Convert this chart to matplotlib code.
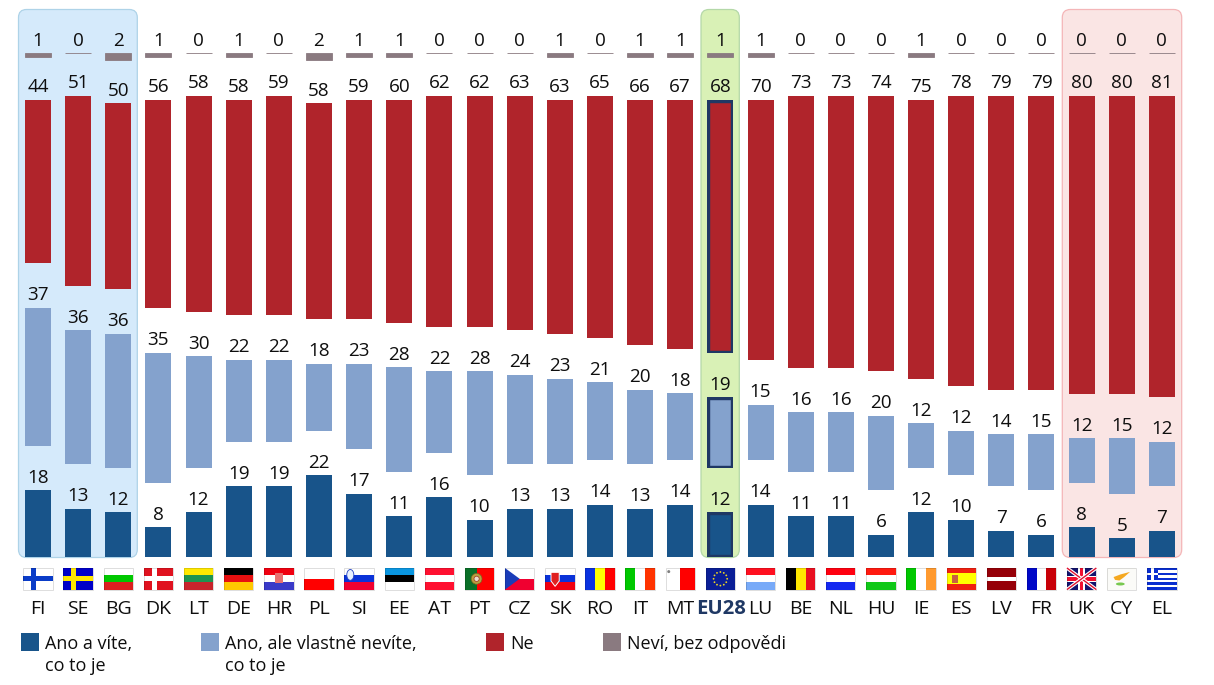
import numpy as np
import matplotlib
matplotlib.use("Agg")
import matplotlib.pyplot as plt
from matplotlib.patches import Rectangle, FancyBboxPatch, Polygon, Circle, Ellipse

countries = ["FI","SE","BG","DK","LT","DE","HR","PL","SI","EE","AT","PT","CZ","SK","RO","IT","MT",
             "EU28","LU","BE","NL","HU","IE","ES","LV","FR","UK","CY","EL"]
ano_vite = [18,13,12,8,12,19,19,22,17,11,16,10,13,13,14,13,14,12,14,11,11,6,12,10,7,6,8,5,7]
ano_nevite = [37,36,36,35,30,22,22,18,23,28,22,28,24,23,21,20,18,19,15,16,16,20,12,12,14,15,12,15,12]
ne = [44,51,50,56,58,58,59,58,59,60,62,62,63,63,65,66,67,68,70,73,73,74,75,78,79,79,80,80,81]
nevi = [1,0,2,1,0,1,0,2,1,1,0,0,0,1,0,1,1,1,1,0,0,0,1,0,0,0,0,0,0]
series_labels = ["Ano a víte,\nco to je", "Ano, ale vlastně nevíte,\nco to je", "Ne", "Neví, bez odpovědi"]

C_DARK, C_LIGHT, C_RED, C_GREY = "#18548a", "#84a2cd", "#b0242b", "#8a7a80"
NAVY = "#1f3864"
TXT = "#0e0e0e"
plt.rcParams['font.family'] = ['Open Sans', 'DejaVu Sans']
FS = 13.6

W, H = 1214, 685
fig = plt.figure(figsize=(W/100, H/100), dpi=100)

# pixel-space layer behind the bars
bg = fig.add_axes([0, 0, 1, 1], zorder=0)
bg.set_xlim(0, W); bg.set_ylim(H, 0); bg.axis("off")
for x0, x1, fc, ec in [(18.5, 137.3, "#d5eafb", "#aed3e8"),
                       (701, 739.3, "#d9f1b6", "#b4d8a8"),
                       (1062.3, 1181.7, "#fae5e4", "#f4b6b8")]:
    bg.add_patch(FancyBboxPatch((x0+8, 9.5+8), x1-x0-16, 548-16,
                                boxstyle="round,pad=8,rounding_size=8",
                                fc=fc, ec=ec, lw=0.9))

# data layer: one category step = 40.14 px, one percent = 3.72 px
PX_X, PX_Y, X0, Y0 = 40.14, 3.72, 38.0, 557.0
ax = fig.add_axes([0, 0, 1, 1], zorder=1)
ax.set_xlim(-X0/PX_X, (W-X0)/PX_X)
ax.set_ylim((Y0-H)/PX_Y, Y0/PX_Y)
ax.axis("off")
BW = 26/PX_X
x = np.arange(len(countries))
eu = countries.index("EU28")
bottom = np.zeros(len(x))
for vals, col, gap_px in [(ano_vite, C_DARK, 44.5), (ano_nevite, C_LIGHT, 44.5), (ne, C_RED, 43), (nevi, C_GREY, 0)]:
    v = np.array(vals, dtype=float)
    bars = ax.bar(x, v, BW, bottom=bottom, color=col, edgecolor=col, linewidth=0.6 if col == C_GREY else 0)
    if col != C_GREY:
        b = bars[eu]
        b.set_edgecolor(NAVY); b.set_linewidth(3.9); b.set_clip_path(b)
    for xi, bi, vi in zip(x, bottom, v):
        ax.annotate(f"{int(vi)}", (xi, bi+vi), xytext=(0, 5.4), textcoords="offset points",
                    ha="center", va="baseline", fontsize=FS, color=TXT)
    bottom = bottom + v + gap_px/PX_Y

# pixel-space layer for flags, codes and legend
top = fig.add_axes([0, 0, 1, 1], zorder=2)
top.set_xlim(0, W); top.set_ylim(H, 0); top.axis("off"); top.patch.set_alpha(0)
FW, FH, FY = 29.4, 21.6, 568.0
red, white, blue = "#f00010", "#ffffff", "#0a2fd0"

def hst(l, cols, fr=None):
    fr = fr or [1/len(cols)]*len(cols)
    y = FY
    for c, f in zip(cols, fr):
        top.add_patch(Rectangle((l, y), FW, FH*f, fc=c, ec="none")); y += FH*f
def vst(l, cols, fr=None):
    fr = fr or [1/len(cols)]*len(cols)
    xx = l
    for c, f in zip(cols, fr):
        top.add_patch(Rectangle((xx, FY), FW*f, FH, fc=c, ec="none")); xx += FW*f
def rel(l, fx, fy, fw, fh, c):
    top.add_patch(Rectangle((l+FW*fx, FY+FH*fy), FW*fw, FH*fh, fc=c, ec="none"))
def cross(l, bgc, c):
    hst(l, [bgc]); rel(l, .27, 0, .17, 1, c); rel(l, 0, .39, 1, .22, c)

def flag(code, l):
    if code == "FI": cross(l, white, "#0a3cc8")
    elif code == "SE": cross(l, "#0000c8", "#ffe600")
    elif code == "BG": hst(l, [white, "#00c800", "#dc2020"])
    elif code == "DK": cross(l, "#e0121f", white)
    elif code == "LT": hst(l, ["#ffe800", "#1e9450", "#c8242c"])
    elif code == "DE": hst(l, ["#000000", "#e81010", "#ffc800"])
    elif code == "HR":
        hst(l, [red, white, "#3a3ac8"])
        rel(l, .38, .22, .26, .48, "#e87070")
    elif code == "PL": hst(l, [white, "#ff0000"])
    elif code == "SI":
        hst(l, [white, "#0a32d8", "#f00030"])
        top.add_patch(Ellipse((l+FW*.2, FY+FH*.32), FW*.24, FH*.5, fc="#e8f0ff", ec="#2040c0", lw=.6))
    elif code == "EE": hst(l, ["#0a96e0", "#000000", white])
    elif code == "AT": hst(l, ["#ff1030", white, "#ff1030"])
    elif code == "PT":
        vst(l, ["#0a7028", "#ff0000"], [.4, .6])
        top.add_patch(Circle((l+FW*.4, FY+FH*.5), 5.4, fc="#b8a040", ec="#806020", lw=.5))
        top.add_patch(Circle((l+FW*.4, FY+FH*.5), 2.6, fc="#e8e0d0", ec="#a03020", lw=.5))
    elif code == "CZ":
        hst(l, [white, "#f00030"])
        top.add_patch(Polygon([(l, FY), (l+FW*.5, FY+FH/2), (l, FY+FH)], fc="#1a3cb8", ec="none"))
    elif code == "SK":
        hst(l, [white, "#0a32d8", "#f00010"])
        top.add_patch(Polygon([(l+FW*.2, FY+FH*.2), (l+FW*.48, FY+FH*.2), (l+FW*.48, FY+FH*.6),
                               (l+FW*.34, FY+FH*.85), (l+FW*.2, FY+FH*.6)], fc="#e02020", ec=white, lw=.7))
    elif code == "RO": vst(l, ["#0a32e0", "#ffff00", "#ff0000"])
    elif code == "IT": vst(l, ["#00c800", white, "#ff3300"])
    elif code == "MT":
        vst(l, [white, "#ff0000"], [.5, .5])
        top.add_patch(Circle((l+3.2, FY+3.6), 1.5, fc="#808080", ec="none"))
    elif code == "EU28":
        hst(l, ["#0a1e96"])
        for a in np.arange(0, 360, 30):
            top.add_patch(Circle((l+FW/2+6.8*np.cos(np.radians(a)), FY+FH/2+6.8*np.sin(np.radians(a))),
                                 .9, fc="#f0d820", ec="none"))
    elif code == "LU": hst(l, ["#ff1020", white, "#78aaf8"])
    elif code == "BE": vst(l, ["#000000", "#ffe800", "#e81020"])
    elif code == "NL": hst(l, ["#ff0010", white, "#1428f0"])
    elif code == "HU": hst(l, ["#ff1a10", white, "#10c818"])
    elif code == "IE": vst(l, ["#00c800", white, "#ff9a30"])
    elif code == "ES":
        hst(l, ["#f02010", "#ffff00", "#f02010"], [.25, .5, .25])
        rel(l, .2, .33, .2, .36, "#c86040")
    elif code == "LV": hst(l, ["#960008", white, "#960008"], [.4, .2, .4])
    elif code == "FR": vst(l, ["#0008c8", white, "#c80008"])
    elif code == "UK":
        hst(l, ["#14146e"])
        R = l+FW; B = FY+FH
        for a, b_ in [((l, FY), (R, B)), ((R, FY), (l, B))]:
            top.plot([a[0], b_[0]], [a[1], b_[1]], color=white, lw=2.6, solid_capstyle="butt")
            top.plot([a[0], b_[0]], [a[1], b_[1]], color="#e01030", lw=1.0, solid_capstyle="butt")
        rel(l, .38, 0, .24, 1, white); rel(l, 0, .36, 1, .28, white)
        rel(l, .44, 0, .12, 1, "#f01030"); rel(l, 0, .42, 1, .16, "#f01030")
    elif code == "CY":
        hst(l, ["#fbfbf8"])
        top.add_patch(Polygon([(l+FW*.22, FY+FH*.42), (l+FW*.45, FY+FH*.3), (l+FW*.78, FY+FH*.18),
                               (l+FW*.58, FY+FH*.42), (l+FW*.42, FY+FH*.58), (l+FW*.27, FY+FH*.55)],
                              fc="#f5a820", ec="none"))
        top.add_patch(Ellipse((l+FW*.45, FY+FH*.74), FW*.3, FH*.14, fc="#78c850", ec="none"))
    elif code == "EL":
        hst(l, [blue, white]*4+[blue], [1/9]*9)
        rel(l, 0, 0, .38, 5/9, blue); rel(l, .14, 0, .1, 5/9, white); rel(l, 0, 2/9, .38, 1/9, white)
    top.add_patch(Rectangle((l, FY), FW, FH, fc="none", ec="#00000022", lw=.7))

for i, code in enumerate(countries):
    cx = X0 + PX_X*i
    flag(code, cx-FW/2)
    if code == "EU28":
        top.text(cx+.5, 614, code, ha="center", va="baseline", fontsize=14.6, fontweight="bold", color=NAVY)
    else:
        top.text(cx, 614, code, ha="center", va="baseline", fontsize=14, color=TXT)

for lab, col, sx, tx in zip(series_labels, [C_DARK, C_LIGHT, C_RED, C_GREY], [20.6, 201, 486, 603], [45, 225, 510, 627]):
    top.add_patch(Rectangle((sx, 632.7), 18, 18, fc=col, ec="none"))
    for k, line in enumerate(lab.split("\n")):
        top.text(tx, 649 + k*22.3, line, ha="left", va="baseline", fontsize=13, color=TXT)

fig.savefig("out.png", dpi=100)
